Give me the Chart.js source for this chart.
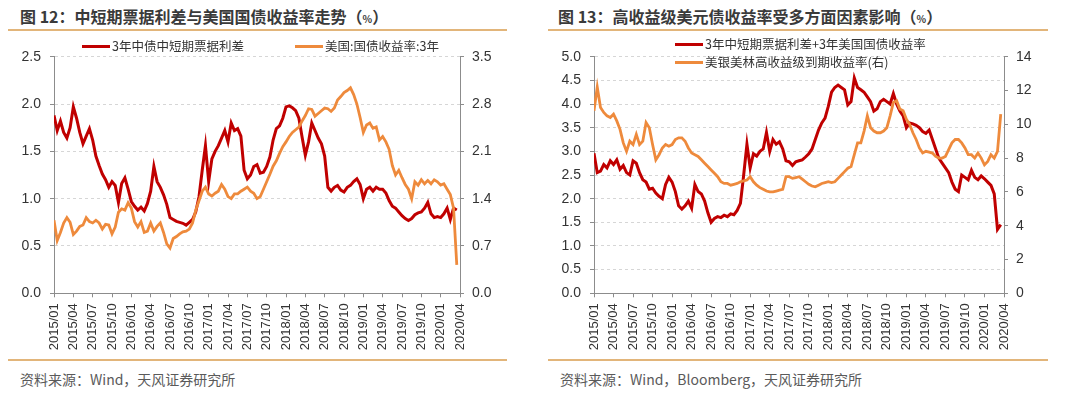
<!DOCTYPE html>
<html>
<head>
<meta charset="utf-8">
<script src="https://cdn.jsdelivr.net/npm/chart.js@4.4.1/dist/chart.umd.min.js"></script>
<style>
  body { margin: 0; width: 1080px; height: 395px; background: #fff; position: relative; overflow: hidden;
         font-family: "Noto Sans CJK SC", "Liberation Sans", sans-serif; }
  .title { position: absolute; top: 6px; font-size: 16px; font-weight: bold; color: #3a3a3a; white-space: nowrap; line-height: 20px; }
  .title small { font-size: 10px; }
  .rule { position: absolute; height: 2px; background: #e2b57a; }
  .src { position: absolute; top: 370px; font-size: 14px; line-height: 18px; color: #5a5a5a; white-space: nowrap; }
  .leg { position: absolute; font-size: 12.5px; line-height: 16px; color: #333; white-space: nowrap; display: flex; align-items: center; }
  .leg i { display: inline-block; width: 28px; height: 3px; margin-right: 2px; }
  canvas { position: absolute; top: 0; }
</style>
</head>
<body>
<div class="title" style="left:20px">图 12：中短期票据利差与美国国债收益率走势（<small>%</small>）</div>
<div class="title" style="left:558px">图 13：高收益级美元债收益率受多方面因素影响（<small>%</small>）</div>
<div class="rule" style="left:8px;width:499px;top:29px"></div>
<div class="rule" style="left:548px;width:500px;top:29px"></div>
<div class="rule" style="left:8px;width:499px;top:359px"></div>
<div class="rule" style="left:548px;width:500px;top:359px"></div>
<div class="src" style="left:20px">资料来源：Wind，天风证券研究所</div>
<div class="src" style="left:560px">资料来源：Wind，Bloomberg，天风证券研究所</div>

<canvas id="left" width="540" height="395" style="left:0"></canvas>
<canvas id="right" width="540" height="395" style="left:540px"></canvas>

<div class="leg" style="left:82px;top:38px"><i style="background:#c00000"></i>3年中债中短期票据利差</div>
<div class="leg" style="left:295px;top:38px"><i style="background:#ee8a3c"></i>美国:国债收益率:3年</div>
<div class="leg" style="left:675px;top:36px"><i style="background:#c00000"></i>3年中短期票据利差+3年美国国债收益率</div>
<div class="leg" style="left:675px;top:54px"><i style="background:#ee8a3c"></i>美银美林高收益级到期收益率(右)</div>

<script>
// half-month samples, month 0 = 2015/01
const STEP = 0.5;
const START_YEAR = 2015;
const X_MAX = 63; // 2020/04

// fig 12
const cnSpread = [
  1.88, 1.72, 1.82, 1.70, 1.64, 1.75, 1.97, 1.85, 1.70, 1.58,
  1.66, 1.74, 1.62, 1.45, 1.35, 1.26, 1.20, 1.12, 1.18, 1.14,
  0.96, 1.16, 1.22, 1.10, 0.97, 0.92, 0.88, 0.91, 0.87, 0.95,
  1.08, 1.34, 1.18, 1.12, 1.04, 0.94, 0.80, 0.78, 0.76, 0.75,
  0.74, 0.72, 0.75, 0.78, 0.86, 1.02, 1.30, 1.56, 1.18, 1.42,
  1.50, 1.56, 1.64, 1.72, 1.60, 1.80, 1.72, 1.74, 1.66, 1.30,
  1.21, 1.25, 1.34, 1.36, 1.27, 1.28, 1.34, 1.44, 1.62, 1.74,
  1.77, 1.85, 1.97, 1.98, 1.96, 1.93, 1.85, 1.65, 1.46, 1.60,
  1.80, 1.72, 1.64, 1.58, 1.45, 1.12, 1.08, 1.12, 1.14, 1.09,
  1.07, 1.12, 1.14, 1.18, 1.21, 1.15, 1.00, 1.10, 1.12, 1.08,
  1.12, 1.10, 1.10, 1.06, 0.98, 0.92, 0.90, 0.86, 0.82, 0.79,
  0.77, 0.79, 0.83, 0.85, 0.86, 0.90, 0.96, 0.84, 0.80, 0.81,
  0.80, 0.84, 0.90, 0.78, 0.90, 0.88
];
const ust3y = [
  1.08, 0.78, 0.90, 1.04, 1.12, 1.05, 0.87, 0.92, 0.99, 1.01,
  1.12, 1.06, 1.04, 1.08, 1.04, 0.95, 1.02, 1.01, 0.88, 0.98,
  1.20, 1.25, 1.23, 1.34, 1.26, 1.06, 0.98, 1.06, 0.90, 0.92,
  1.04, 0.92, 0.99, 1.04, 0.90, 0.73, 0.67, 0.81, 0.84, 0.88,
  0.91, 0.92, 0.95, 1.04, 1.23, 1.37, 1.51, 1.57, 1.47, 1.44,
  1.48, 1.51, 1.61, 1.54, 1.43, 1.40, 1.47, 1.47, 1.51, 1.54,
  1.57, 1.51, 1.48, 1.40, 1.43, 1.54, 1.65, 1.76, 1.88, 1.96,
  2.07, 2.17, 2.24, 2.32, 2.38, 2.42, 2.46, 2.55, 2.63, 2.73,
  2.72, 2.62, 2.66, 2.70, 2.74, 2.73, 2.69, 2.74, 2.86, 2.91,
  2.97, 3.00, 3.04, 2.94, 2.80, 2.60, 2.38, 2.49, 2.52, 2.44,
  2.46, 2.27, 2.32, 2.24, 2.13, 1.89, 1.75, 1.82, 1.71, 1.61,
  1.54, 1.40, 1.65, 1.60, 1.68, 1.62, 1.67, 1.62, 1.68, 1.65,
  1.60, 1.62, 1.54, 1.46, 1.26, 0.42
];

// fig 13
const spreadPlusUst = [
  2.96, 2.55, 2.58, 2.72, 2.65, 2.80, 2.72, 2.82, 2.62, 2.70,
  2.55, 2.50, 2.80, 2.75, 2.55, 2.40, 2.35, 2.20, 2.22, 2.12,
  2.05, 2.00, 2.30, 2.45, 2.35, 2.15, 1.85, 1.78, 1.85, 1.95,
  1.80, 2.30, 2.15, 2.10, 1.95, 1.70, 1.50, 1.58, 1.62, 1.60,
  1.65, 1.62, 1.68, 1.66, 1.75, 1.90, 2.50, 3.15, 2.65, 2.95,
  2.90, 3.00, 3.05, 3.40, 3.00, 3.25, 3.15, 3.20, 3.05, 2.80,
  2.78, 2.70, 2.78, 2.80, 2.82, 2.88, 2.95, 3.05, 3.25, 3.45,
  3.60, 3.70, 3.95, 4.25, 4.35, 4.40, 4.35, 4.30, 3.98, 4.05,
  4.55, 4.35, 4.30, 4.25, 4.15, 4.05, 3.85, 3.90, 4.05, 4.10,
  4.05, 4.00, 4.22, 4.00, 3.85, 3.75, 3.50, 3.60, 3.58, 3.55,
  3.50, 3.42, 3.38, 3.45, 3.25, 3.05, 2.85, 2.75, 2.65, 2.55,
  2.35, 2.20, 2.15, 2.50, 2.45, 2.40, 2.60, 2.45, 2.40, 2.48,
  2.42, 2.35, 2.28, 2.10, 1.35, 1.45
];
const hyYield = [
  10.8, 12.2, 11.0, 10.7, 10.5, 10.4, 10.6, 10.2, 9.7, 8.9,
  8.4, 9.0, 8.8, 9.4, 8.8, 9.0, 10.1, 9.8, 8.8, 7.9,
  8.2, 8.6, 8.8, 8.7, 8.8, 9.1, 9.2, 9.2, 9.0, 8.6,
  8.3, 8.2, 8.1, 7.9, 7.7, 7.5, 7.3, 7.1, 6.9, 6.6,
  6.5, 6.5, 6.4, 6.45, 6.5, 6.6, 6.65, 6.7, 6.9, 6.6,
  6.4, 6.25, 6.15, 6.05, 6.0, 6.0, 6.05, 6.1, 6.15, 6.9,
  6.9, 6.8, 6.85, 6.9, 6.75, 6.6, 6.45, 6.35, 6.3, 6.4,
  6.5, 6.55, 6.6, 6.55, 6.6, 6.8, 7.0, 7.2, 7.4, 7.5,
  8.2, 8.9, 8.9, 9.6, 10.5, 9.8, 9.6, 9.5, 9.5, 9.6,
  9.8, 10.5, 11.3, 11.4, 10.9, 10.8, 10.3, 10.0, 9.5, 9.1,
  8.6, 8.3, 8.4, 8.35, 8.3, 8.1, 8.0, 8.0, 8.1, 8.5,
  8.9, 9.1, 9.1, 8.9, 8.6, 8.2, 8.2, 8.0, 8.3, 8.0,
  7.6, 7.8, 8.2, 8.0, 8.4, 10.6
];

const ticks12L = [0, 0.5, 1.0, 1.5, 2.0, 2.5];
const ticks12R = [0, 0.7, 1.4, 2.1, 2.8, 3.5];
const ticks13L = [0, 0.5, 1.0, 1.5, 2.0, 2.5, 3.0, 3.5, 4.0, 4.5, 5.0];
const ticks13R = [0, 2, 4, 6, 8, 10, 12, 14];

const RED = "#c00000";
const ORANGE = "#ee8a3c";
const AXIS = "#8c8c8c";
const GRID = "#d6d6d6";
const TEXT = "#333";

Chart.defaults.font.family = '"Liberation Sans", Arial, sans-serif';
Chart.defaults.color = TEXT;

function monthLabel(v) {
  const y = START_YEAR + Math.floor(v / 12);
  const m = (v % 12) + 1;
  return y + "/" + String(m).padStart(2, "0");
}

function series(values, color, axis, order, width) {
  return {
    data: values.map((v, i) => ({ x: i * STEP, y: v })),
    borderColor: color,
    backgroundColor: color,
    borderWidth: width,
    pointRadius: 0,
    tension: 0,
    yAxisID: axis,
    order: order,
  };
}

function yAxis(side, tickVals, digits, width) {
  const left = side === "left";
  return {
    position: side,
    min: tickVals[0],
    max: tickVals[tickVals.length - 1],
    afterBuildTicks: (s) => { s.ticks = tickVals.map((v) => ({ value: v })); },
    afterFit: (s) => { s.width = width; },
    ticks: {
      padding: left ? 9 : 8,
      color: TEXT,
      font: { size: 14 },
      callback: (v) => v.toFixed(digits),
    },
    grid: left
      ? { color: GRID, tickColor: AXIS, tickLength: 4, lineWidth: 1 }
      : { drawOnChartArea: false, color: AXIS, tickLength: 4 },
    border: left ? { color: AXIS, dash: [3, 3] } : { color: AXIS },
  };
}

function makeChart(id, datasets, yl, yr) {
  new Chart(document.getElementById(id), {
    type: "line",
    data: { datasets },
    options: {
      responsive: false,
      animation: false,
      devicePixelRatio: 1,
      layout: { padding: { top: 56.7, left: 0, right: 0, bottom: 0 } },
      plugins: { legend: { display: false }, tooltip: { enabled: false } },
      scales: {
        x: {
          type: "linear",
          min: 0,
          max: X_MAX,
          afterFit: (s) => { s.height = 101.7; },
          ticks: {
            stepSize: 3,
            autoSkip: false,
            maxRotation: 90,
            minRotation: 90,
            padding: 6,
            color: TEXT,
            font: { size: 13 },
            callback: monthLabel,
          },
          grid: { drawOnChartArea: false, color: AXIS, tickLength: 4 },
          border: { color: AXIS },
        },
        y: yl,
        y1: yr,
      },
    },
  });
}

makeChart("left",
  [series(cnSpread, RED, "y", 2, 3), series(ust3y, ORANGE, "y1", 1, 2.8)],
  yAxis("left", ticks12L, 1, 54),
  yAxis("right", ticks12R, 1, 80));

makeChart("right",
  [series(spreadPlusUst, RED, "y", 2, 3), series(hyYield, ORANGE, "y1", 1, 2.8)],
  yAxis("left", ticks13L, 1, 54),
  yAxis("right", ticks13R, 0, 76));
</script>
</body>
</html>
